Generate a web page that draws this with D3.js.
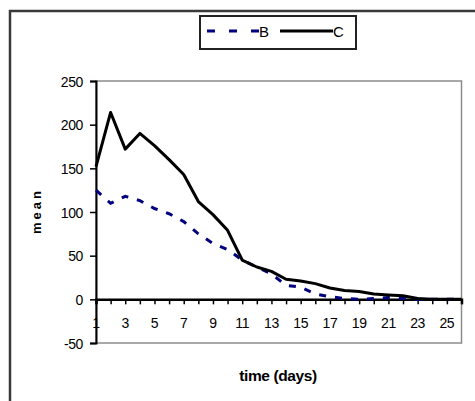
<!DOCTYPE html>
<html>
<head>
<meta charset="utf-8">
<script src="https://cdn.jsdelivr.net/npm/d3@7"></script>
<style>
  html, body { margin: 0; padding: 0; background: #fff; }
  svg { display: block; }
  text { font-family: "Liberation Sans", Arial, sans-serif; fill: #000; }
</style>
</head>
<body>
<svg id="chart" width="475" height="401"></svg>
<script>
const days = d3.range(1, 27);
const seriesB = [125, 110, 118, 113, 104, 98, 89, 75, 64, 57, 45, 37, 29, 16, 14, 6, 3, 1, 0, 1, 2, 1, 0, 0, 0, 0];
const seriesC = [152, 214, 172, 190, 176, 160, 143, 112, 97, 79, 45, 37, 32, 23, 21, 18, 13, 10, 9, 6, 5, 4, 1, 0, 0, 0];
const yTicks = [-50, 0, 50, 100, 150, 200, 250];
const xLabels = [1, 3, 5, 7, 9, 11, 13, 15, 17, 19, 21, 23, 25];
const seriesNames = ["B", "C"];

const svg = d3.select("#chart");
const pLeft = 96, pRight = 461.5, pTop = 81, pBottom = 343;

// outer chart border
svg.append("rect").attr("x", 10).attr("y", 11).attr("width", 480).attr("height", 420)
  .attr("fill", "#fff").attr("stroke", "#3a3a3a").attr("stroke-width", 2.5);

const x = d3.scaleLinear().domain([1, 26]).range([pLeft, pRight]);
const y = d3.scaleLinear().domain([-50, 250]).range([pBottom, pTop]);

// plot area border (gray)
svg.append("rect").attr("x", pLeft).attr("y", pTop).attr("width", pRight - pLeft).attr("height", pBottom - pTop)
  .attr("fill", "#fff").attr("stroke", "#8c8c8c").attr("stroke-width", 1.5);

// y axis
const yAxis = d3.axisLeft(y).tickValues(yTicks).tickSize(6).tickPadding(7).tickFormat(d => String(d));
const gy = svg.append("g").attr("transform", `translate(${pLeft},0)`).call(yAxis);
gy.attr("font-family", null).attr("font-size", null);
gy.select(".domain").attr("stroke", "#000").attr("stroke-width", 2);
gy.selectAll(".tick line").attr("stroke", "#000").attr("stroke-width", 1.5);
gy.selectAll("text").style("font-size", "14px").attr("dy", "0.36em").attr("letter-spacing", "-0.4");

// x axis at y = 0
const xAxis = d3.axisBottom(x).tickValues(days).tickSize(5).tickFormat("");
const gx = svg.append("g").attr("transform", `translate(0,${y(0)})`).call(xAxis);
gx.select(".domain").attr("stroke", "#000").attr("stroke-width", 2.5);
gx.selectAll(".tick line").attr("stroke", "#000").attr("stroke-width", 1.5);

svg.append("g").selectAll("text").data(xLabels).join("text")
  .attr("x", d => x(d)).attr("y", 328)
  .attr("text-anchor", "middle").style("font-size", "14px").attr("letter-spacing", "-0.4")
  .text(d => d);

// lines
const line = d3.line().x((d, i) => x(days[i])).y(d => y(d));
svg.append("path").datum(seriesB).attr("d", line)
  .attr("fill", "none").attr("stroke", "#000080").attr("stroke-width", 3)
  .attr("stroke-dasharray", "7,9");
svg.append("path").datum(seriesC).attr("d", line)
  .attr("fill", "none").attr("stroke", "#000").attr("stroke-width", 3)
  .attr("stroke-linejoin", "round");

// axis titles
svg.append("text").attr("x", 278).attr("y", 381).attr("text-anchor", "middle")
  .style("font-size", "15.5px").style("font-weight", "bold").attr("letter-spacing", "-0.4")
  .text("time (days)");
svg.append("text").attr("transform", "translate(41,211) rotate(-90)").attr("text-anchor", "middle")
  .style("font-size", "13px").style("font-weight", "bold").attr("letter-spacing", "3")
  .text("mean");

// legend
const lg = svg.append("g");
lg.append("rect").attr("x", 200).attr("y", 16).attr("width", 156).attr("height", 33)
  .attr("fill", "#fff").attr("stroke", "#222").attr("stroke-width", 2);
lg.append("line").attr("x1", 207).attr("x2", 260).attr("y1", 31).attr("y2", 31)
  .attr("stroke", "#000080").attr("stroke-width", 3).attr("stroke-dasharray", "8,14");
lg.append("text").attr("x", 259).attr("y", 37).style("font-size", "15px").text(seriesNames[0]);
lg.append("line").attr("x1", 280).attr("x2", 333).attr("y1", 31).attr("y2", 31)
  .attr("stroke", "#000").attr("stroke-width", 3);
lg.append("text").attr("x", 333).attr("y", 37).style("font-size", "15px").text(seriesNames[1]);
</script>
</body>
</html>
